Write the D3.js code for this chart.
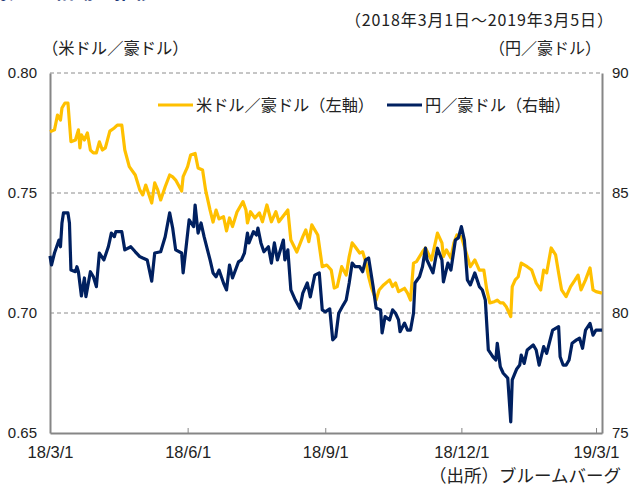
<!DOCTYPE html>
<html><head><meta charset="utf-8">
<script src="https://cdn.jsdelivr.net/npm/d3@7"></script>
<style>
html,body{margin:0;padding:0;background:#fff;}
svg{display:block;}
</style></head>
<body>
<svg id="c" width="635" height="487"></svg>
<script>
// ---- data ----
const usdDates = ["2018-03-01","2018-03-04","2018-03-06","2018-03-08","2018-03-09","2018-03-11","2018-03-13","2018-03-15","2018-03-18","2018-03-20","2018-03-21","2018-03-22","2018-03-24","2018-03-26","2018-03-28","2018-03-30","2018-04-01","2018-04-03","2018-04-05","2018-04-07","2018-04-10","2018-04-13","2018-04-15","2018-04-18","2018-04-20","2018-04-23","2018-04-27","2018-04-30","2018-05-02","2018-05-04","2018-05-08","2018-05-10","2018-05-12","2018-05-14","2018-05-17","2018-05-20","2018-05-22","2018-05-24","2018-05-28","2018-05-29","2018-06-01","2018-06-03","2018-06-06","2018-06-08","2018-06-11","2018-06-13","2018-06-16","2018-06-18","2018-06-20","2018-06-22","2018-06-25","2018-06-27","2018-06-29","2018-07-01","2018-07-04","2018-07-08","2018-07-10","2018-07-11","2018-07-13","2018-07-16","2018-07-19","2018-07-21","2018-07-24","2018-07-27","2018-07-30","2018-08-01","2018-08-07","2018-08-09","2018-08-13","2018-08-17","2018-08-19","2018-08-21","2018-08-23","2018-08-27","2018-08-30","2018-09-02","2018-09-05","2018-09-07","2018-09-09","2018-09-12","2018-09-15","2018-09-17","2018-09-19","2018-09-21","2018-09-24","2018-09-26","2018-09-28","2018-09-30","2018-10-02","2018-10-05","2018-10-07","2018-10-10","2018-10-14","2018-10-16","2018-10-18","2018-10-20","2018-10-24","2018-10-26","2018-10-28","2018-10-30","2018-11-01","2018-11-05","2018-11-07","2018-11-11","2018-11-15","2018-11-18","2018-11-19","2018-11-21","2018-11-24","2018-11-26","2018-11-28","2018-12-01","2018-12-05","2018-12-07","2018-12-10","2018-12-13","2018-12-16","2018-12-18","2018-12-20","2018-12-23","2018-12-25","2018-12-27","2018-12-29","2018-12-31","2019-01-03","2019-01-04","2019-01-06","2019-01-08","2019-01-10","2019-01-14","2019-01-17","2019-01-20","2019-01-23","2019-01-25","2019-01-27","2019-01-30","2019-02-02","2019-02-04","2019-02-06","2019-02-09","2019-02-12","2019-02-15","2019-02-17","2019-02-19","2019-02-22","2019-02-25","2019-02-27","2019-03-01","2019-03-05"];
const usdValues = [0.7755,0.7763,0.7825,0.7804,0.7854,0.7875,0.7875,0.7714,0.7721,0.7763,0.7688,0.7742,0.7721,0.7750,0.7679,0.7667,0.7667,0.7713,0.7679,0.7688,0.7758,0.7771,0.7783,0.7783,0.7679,0.7610,0.7575,0.7513,0.7492,0.7533,0.7458,0.7542,0.7513,0.7471,0.7526,0.7575,0.7567,0.7554,0.7508,0.7568,0.7610,0.7658,0.7665,0.7604,0.7596,0.7513,0.7429,0.7379,0.7429,0.7392,0.7401,0.7342,0.7396,0.7360,0.7421,0.7464,0.7429,0.7375,0.7422,0.7396,0.7417,0.7380,0.7450,0.7380,0.7422,0.7380,0.7429,0.7304,0.7254,0.7318,0.7346,0.7297,0.7367,0.7325,0.7193,0.7200,0.7179,0.7104,0.7110,0.7193,0.7158,0.7235,0.7292,0.7276,0.7250,0.7255,0.7214,0.7151,0.7103,0.7054,0.7096,0.7117,0.7138,0.7110,0.7125,0.7089,0.7103,0.7083,0.7054,0.7208,0.7214,0.7255,0.7271,0.7221,0.7333,0.7292,0.7235,0.7263,0.7229,0.7292,0.7325,0.7318,0.7235,0.7193,0.7221,0.7179,0.7179,0.7096,0.7042,0.7047,0.7054,0.7042,0.7042,0.7026,0.6985,0.7110,0.7138,0.7151,0.7208,0.7193,0.7179,0.7125,0.7096,0.7179,0.7167,0.7271,0.7242,0.7167,0.7096,0.7068,0.7110,0.7138,0.7158,0.7096,0.7138,0.7188,0.7096,0.7089,0.7083];

const jpyDates = ["2018-03-01","2018-03-02","2018-03-04","2018-03-07","2018-03-08","2018-03-09","2018-03-10","2018-03-13","2018-03-14","2018-03-15","2018-03-18","2018-03-19","2018-03-20","2018-03-22","2018-03-24","2018-03-25","2018-03-28","2018-03-30","2018-04-01","2018-04-03","2018-04-06","2018-04-09","2018-04-10","2018-04-11","2018-04-13","2018-04-14","2018-04-18","2018-04-20","2018-04-24","2018-04-27","2018-04-30","2018-05-02","2018-05-05","2018-05-08","2018-05-10","2018-05-14","2018-05-17","2018-05-20","2018-05-22","2018-05-24","2018-05-28","2018-05-29","2018-05-31","2018-06-02","2018-06-05","2018-06-06","2018-06-08","2018-06-10","2018-06-12","2018-06-16","2018-06-18","2018-06-20","2018-06-22","2018-06-25","2018-06-27","2018-06-29","2018-07-01","2018-07-05","2018-07-07","2018-07-09","2018-07-11","2018-07-12","2018-07-15","2018-07-17","2018-07-18","2018-07-20","2018-07-22","2018-07-25","2018-07-27","2018-07-29","2018-07-31","2018-08-04","2018-08-05","2018-08-07","2018-08-09","2018-08-12","2018-08-15","2018-08-17","2018-08-20","2018-08-22","2018-08-25","2018-08-28","2018-08-30","2018-09-01","2018-09-04","2018-09-06","2018-09-08","2018-09-10","2018-09-13","2018-09-15","2018-09-17","2018-09-19","2018-09-21","2018-09-24","2018-09-26","2018-09-28","2018-09-30","2018-10-03","2018-10-05","2018-10-08","2018-10-09","2018-10-11","2018-10-14","2018-10-16","2018-10-18","2018-10-20","2018-10-21","2018-10-24","2018-10-26","2018-10-28","2018-10-30","2018-10-31","2018-11-03","2018-11-05","2018-11-07","2018-11-08","2018-11-12","2018-11-15","2018-11-18","2018-11-19","2018-11-22","2018-11-24","2018-11-27","2018-11-29","2018-12-01","2018-12-03","2018-12-05","2018-12-07","2018-12-10","2018-12-13","2018-12-15","2018-12-17","2018-12-19","2018-12-22","2018-12-24","2018-12-25","2018-12-27","2018-12-29","2019-01-01","2019-01-03","2019-01-04","2019-01-07","2019-01-09","2019-01-10","2019-01-12","2019-01-14","2019-01-18","2019-01-20","2019-01-22","2019-01-25","2019-01-27","2019-01-31","2019-02-04","2019-02-05","2019-02-07","2019-02-09","2019-02-11","2019-02-13","2019-02-16","2019-02-18","2019-02-20","2019-02-22","2019-02-25","2019-02-27","2019-03-01","2019-03-05"];
const jpyValues = [82.38,82.00,82.50,83.04,82.76,83.75,84.17,84.17,83.75,81.79,81.72,81.93,81.72,80.71,81.46,80.68,81.72,81.51,81.10,82.50,82.21,82.76,83.04,83.33,83.18,83.39,83.39,82.63,82.76,82.55,82.35,82.29,82.21,81.33,82.50,82.55,83.18,84.17,83.54,82.63,82.50,81.67,82.76,83.88,83.60,84.50,83.33,83.75,83.18,82.21,81.67,81.51,81.79,81.25,80.96,82.00,81.46,82.13,82.21,82.50,83.33,82.92,83.39,83.25,83.54,82.92,82.55,82.76,82.08,82.92,82.21,83.04,82.21,82.63,80.96,80.54,80.20,80.83,81.25,80.67,81.58,81.67,80.13,80.05,80.17,78.88,79.01,79.99,80.33,80.54,81.25,82.08,81.93,81.93,81.72,82.21,82.29,81.10,80.21,80.13,79.17,79.85,79.71,80.13,79.99,79.71,79.22,79.58,79.29,79.29,79.99,81.25,81.51,81.93,82.70,82.21,81.67,82.70,82.21,81.30,82.08,81.79,83.04,83.13,83.60,83.04,81.38,81.17,81.67,81.10,80.96,80.54,78.46,78.18,78.04,78.74,77.76,77.49,77.29,75.46,77.21,77.67,77.83,78.25,77.90,78.46,78.67,78.46,77.83,78.60,78.32,79.29,79.43,78.18,77.83,77.83,78.04,78.74,78.88,78.95,78.53,79.29,79.57,79.08,79.29,79.29];

const leftTicks = [0.65, 0.70, 0.75, 0.80];
const rightTicks = [75, 80, 85, 90];
const xTickDates = ["2018-03-01","2018-06-01","2018-09-01","2018-12-01","2019-03-01"];
const seriesNames = ["米ドル／豪ドル（左軸）", "円／豪ドル（右軸）"];

// ---- drawing ----
const parse = d3.timeParse("%Y-%m-%d");
const usd = usdDates.map((d,i)=>({date:parse(d), v:usdValues[i]}));
const jpy = jpyDates.map((d,i)=>({date:parse(d), v:jpyValues[i]}));

const L = 50, R = 602, T = 73, B = 433;
const svg = d3.select("#c");
const x = d3.scaleTime().domain([parse("2018-03-01"), parse("2019-03-05")]).range([L, R]);
const yL = d3.scaleLinear().domain([0.65, 0.80]).range([B, T]);
const yR = d3.scaleLinear().domain([75, 90]).range([B, T]);

const jpFont = "'Noto Sans CJK JP', 'Noto Sans', sans-serif";
const numFont = "'Liberation Sans', Arial, sans-serif";
const txt = "#222";
const axisCol = "#868686";

// partially visible title at very top (cut off in the reference)
svg.append("text").attr("x", -6).attr("y", -1).attr("font-family", jpFont)
  .attr("font-weight", "bold").attr("font-size", 20).attr("fill", "#1f3a78").text("豪ドル相場の推移");

svg.append("text").attr("x", 613).attr("y", 26).attr("text-anchor", "end")
  .attr("font-family", jpFont).attr("font-size", 16).attr("fill", txt)
  .attr("textLength", 268).attr("lengthAdjust", "spacing")
  .text("（2018年3月1日～2019年3月5日）");
svg.append("text").attr("x", 42).attr("y", 54)
  .attr("font-family", jpFont).attr("font-size", 16.3).attr("fill", txt).text("（米ドル／豪ドル）");
svg.append("text").attr("x", 601).attr("y", 54).attr("text-anchor", "end")
  .attr("font-family", jpFont).attr("font-size", 16).attr("fill", txt).text("（円／豪ドル）");

// gridlines
svg.append("g").selectAll("line").data([0.70, 0.75, 0.80]).join("line")
  .attr("x1", L).attr("x2", R).attr("y1", d=>yL(d)).attr("y2", d=>yL(d))
  .attr("stroke", "#8c8c8c").attr("stroke-width", 1).attr("stroke-dasharray", "4,3");

// axes
const gL = svg.append("g").attr("transform", `translate(${L},0)`)
  .call(d3.axisLeft(yL).tickValues(leftTicks).tickFormat(d3.format(".2f")).tickSize(0).tickPadding(13));
const gR = svg.append("g").attr("transform", `translate(${R},0)`)
  .call(d3.axisRight(yR).tickValues(rightTicks).tickFormat(d3.format("d")).tickSize(0).tickPadding(10));
const fmt = d => `${d.getFullYear()%100}/${d.getMonth()+1}/${d.getDate()}`;
const gB = svg.append("g").attr("transform", `translate(0,${B})`)
  .call(d3.axisBottom(x).tickValues(xTickDates.map(parse)).tickFormat(fmt).tickSizeInner(-5).tickSizeOuter(0).tickPadding(13));
[gL, gR, gB].forEach(g => {
  g.select(".domain").attr("stroke", axisCol).attr("stroke-width", 2);
  g.selectAll(".tick line").attr("stroke", axisCol).attr("stroke-width", 1);
  g.selectAll("text").attr("font-family", numFont).attr("font-size", 15).attr("fill", txt);
});
gB.selectAll("text").attr("font-size", 16.5);

// lines
const lineL = d3.line().x(d=>x(d.date)).y(d=>yL(d.v));
const lineR = d3.line().x(d=>x(d.date)).y(d=>yR(d.v));
svg.append("path").datum(usd).attr("d", lineL).attr("fill", "none")
  .attr("stroke", "#FFC000").attr("stroke-width", 3.2).attr("stroke-linejoin", "round");
svg.append("path").datum(jpy).attr("d", lineR).attr("fill", "none")
  .attr("stroke", "#002060").attr("stroke-width", 3.2).attr("stroke-linejoin", "round");

// legend
const legend = [
  {name: seriesNames[0], color: "#FFC000", x: 158},
  {name: seriesNames[1], color: "#002060", x: 387}
];
const lg = svg.append("g");
legend.forEach(l => {
  lg.append("line").attr("x1", l.x).attr("x2", l.x + 35).attr("y1", 105).attr("y2", 105)
    .attr("stroke", l.color).attr("stroke-width", 3.2);
  lg.append("text").attr("x", l.x + 38).attr("y", 111).attr("font-family", jpFont)
    .attr("font-size", 16.2).attr("fill", txt).text(l.name);
});

// source
svg.append("text").attr("x", 621).attr("y", 482).attr("text-anchor", "end")
  .attr("font-family", jpFont).attr("font-size", 17.5).attr("fill", txt)
  .text("（出所）ブルームバーグ");
</script>
</body></html>
